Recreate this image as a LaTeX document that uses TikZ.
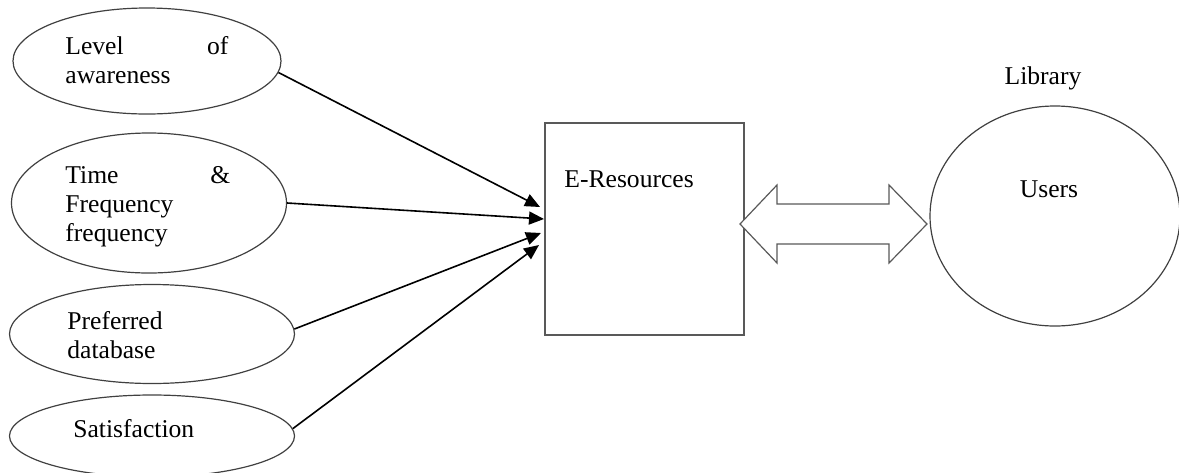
\documentclass[tikz,border=0pt]{standalone}
\usepackage{fontspec}
\setmainfont{Liberation Serif}
\usetikzlibrary{arrows.meta,shapes.geometric}
\begin{document}
\begin{tikzpicture}[x=0.5pt,y=-0.5pt,
  oval/.style={ellipse, draw=black!75, line width=0.6pt, inner sep=0pt},
  lbl/.style={anchor=base west, inner sep=0pt, align=left,
              font=\fontsize{12.8}{14.5}\selectfont},
  feed/.style={-{Triangle[length=7.5pt,width=6.5pt]}, line width=0.8pt},
  link/.style={draw=black!65, line width=0.6pt, fill=white, line join=miter}]
\useasboundingbox (0,0) rectangle (1179,472);

% factor ellipses on the left
\node[oval, minimum width=134pt, minimum height=53pt]   (e1) at (147,61)  {};
\node[oval, minimum width=137.5pt, minimum height=70pt] (e2) at (149,203) {};
\node[oval, minimum width=142.5pt, minimum height=49.5pt] (e3) at (152,334) {};
\node[oval, minimum width=142.5pt, minimum height=41pt] (e4) at (152,436) {};

\node[lbl, text width=81.5pt] (t1) at (65,54)
  {\makebox[81.5pt][s]{Level\hfill of}\\awareness};
\node[lbl, text width=82.5pt] (t2) at (65,183)
  {\makebox[82.5pt][s]{Time\hfill \&}\\Frequency\\frequency};
\node[lbl, text width=60pt] (t3) at (67,329) {Preferred\\database};
\node[lbl] (t4) at (73,437) {Satisfaction};

% central box
\node[draw=black!65, line width=0.6pt, minimum width=99.5pt, minimum height=106pt]
  (box) at (644.5,229) {};
\node[lbl] (bt) at (564,187) {E-Resources};

% users ellipse
\node[oval, minimum width=125pt, minimum height=110pt] (users) at (1055,216) {};
\node[lbl, anchor=base] (ut) at (1049,197) {Users};
\node[lbl, anchor=base] (lib) at (1043,84) {Library};

% arrow tips at the box
\coordinate (c1) at (540,207);
\coordinate (c2) at (544,219);
\coordinate (c3) at (541,233);
\coordinate (c4) at (539,245);

\draw[feed] (e1.-5) -- (c1);
\draw[feed] (e2.east) -- (c2);
\draw[feed] (e3.2) -- (c3);
\draw[feed] (e4.3) -- (c4);

% two-way block arrow between box and users
\draw[link] (740,224) -- (777,185) -- (777,204) -- (889,204) -- (889,185)
  -- (927,224) -- (889,263) -- (889,244) -- (777,244) -- (777,263) -- cycle;
\end{tikzpicture}
\end{document}
